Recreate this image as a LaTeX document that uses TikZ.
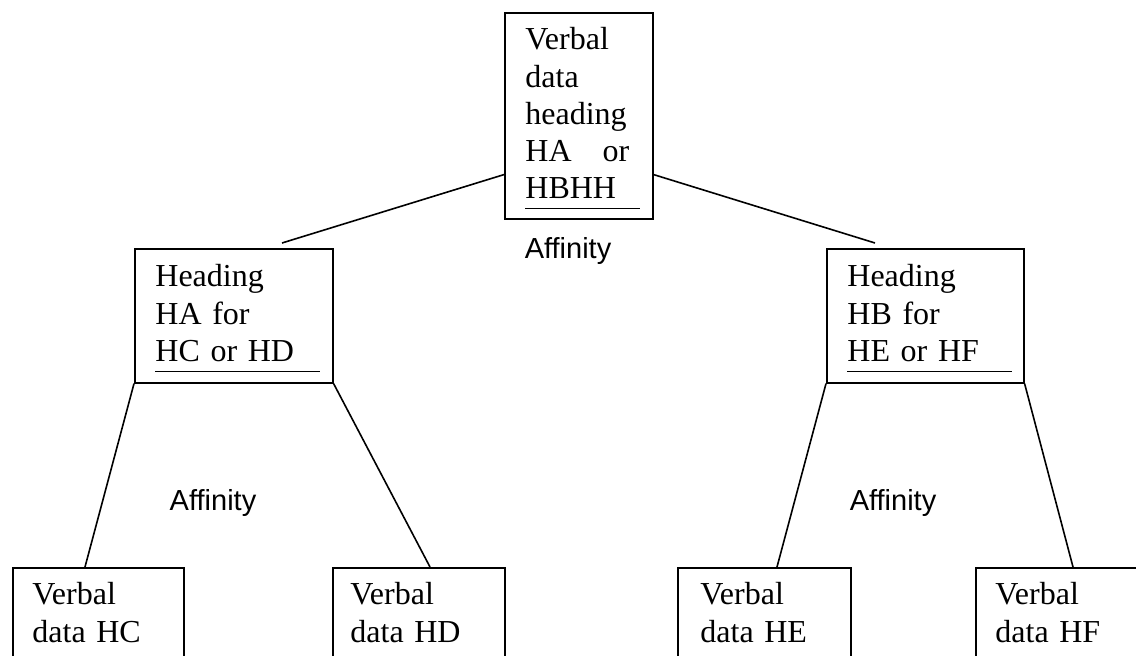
\documentclass[tikz,border=0pt]{standalone}
\usepackage{fontspec}
\setmainfont{Liberation Serif}
\newfontfamily\affsans[Ligatures=NoCommon]{Liberation Sans}
\tikzset{
    card/.style={draw, line width=0.8pt, inner sep=0pt, anchor=north west},
    words/.style={anchor=base west, inner sep=0pt, align=left, text width=80pt,
        font=\fontsize{16}{18.6}\selectfont},
    tag/.style={anchor=base, inner sep=0pt, font=\affsans\fontsize{14.5}{17}\selectfont},
    link/.style={line width=0.8pt},
    rule/.style={line width=0.6pt}
}
\begin{document}
\begin{tikzpicture}[x=0.5pt, y=-0.5pt]
    \useasboundingbox (0,0) rectangle (1136,656);
    \clip (0,0) rectangle (1136,656);

    % Top heading
    \node[card, minimum width=74pt, minimum height=103pt] (top) at (504,12) {};
    \node[words, text width=52pt] (topt) at ([shift={(21,38)}]top.north west)
        {Verbal\\data\\heading\\HA \hfill or\\HBHH};
    \draw[rule] ([shift={(21,-11)}]top.south west) -- ([shift={(-14,-11)}]top.south east);
    \node[tag] (aff0) at (568,259) {Affinity};

    % Middle headings
    \node[card, minimum width=99pt, minimum height=67pt] (mida) at (134,248) {};
    \node[words] (midat) at ([shift={(21,39)}]mida.north west) {Heading\\HA for\\HC or HD};
    \draw[rule] ([shift={(21,-12)}]mida.south west) -- ([shift={(-14,-12)}]mida.south east);

    \node[card, minimum width=98.5pt, minimum height=67pt] (midb) at (826,248) {};
    \node[words] (midbt) at ([shift={(21,39)}]midb.north west) {Heading\\HB for\\HE or HF};
    \draw[rule] ([shift={(21,-12)}]midb.south west) -- ([shift={(-13,-12)}]midb.south east);

    \node[tag] (affa) at (213,511) {Affinity};
    \node[tag] (affb) at (893,511) {Affinity};

    % Verbal data boxes (cut by the page edge)
    \node[card, minimum width=85.5pt, minimum height=60pt] (hc) at (12,567) {};
    \node[words] (hct) at ([shift={(20,38)}]hc.north west) {Verbal\\data HC};
    \node[card, minimum width=86pt, minimum height=60pt] (hd) at (332,567) {};
    \node[words] (hdt) at ([shift={(18,38)}]hd.north west) {Verbal\\data HD};
    \node[card, minimum width=86.5pt, minimum height=60pt] (he) at (677,567) {};
    \node[words] (het) at ([shift={(23,38)}]he.north west) {Verbal\\data HE};
    \node[card, minimum width=100pt, minimum height=60pt] (hf) at (975,567) {};
    \node[words] (hft) at ([shift={(20,38)}]hf.north west) {Verbal\\data HF};

    % Connectors
    \draw[link] ([shift={(0,-45)}]top.south west) -- ([shift={(148,-5)}]mida.north west);
    \draw[link] ([shift={(0,-45)}]top.south east) -- ([shift={(49,-5)}]midb.north west);
    \draw[link] (mida.south west) -- ([shift={(73,0)}]hc.north west);
    \draw[link] (mida.south east) -- ([shift={(98,0)}]hd.north west);
    \draw[link] (midb.south west) -- ([shift={(100,0)}]he.north west);
    \draw[link] (midb.south east) -- ([shift={(98,0)}]hf.north west);
\end{tikzpicture}
\end{document}
